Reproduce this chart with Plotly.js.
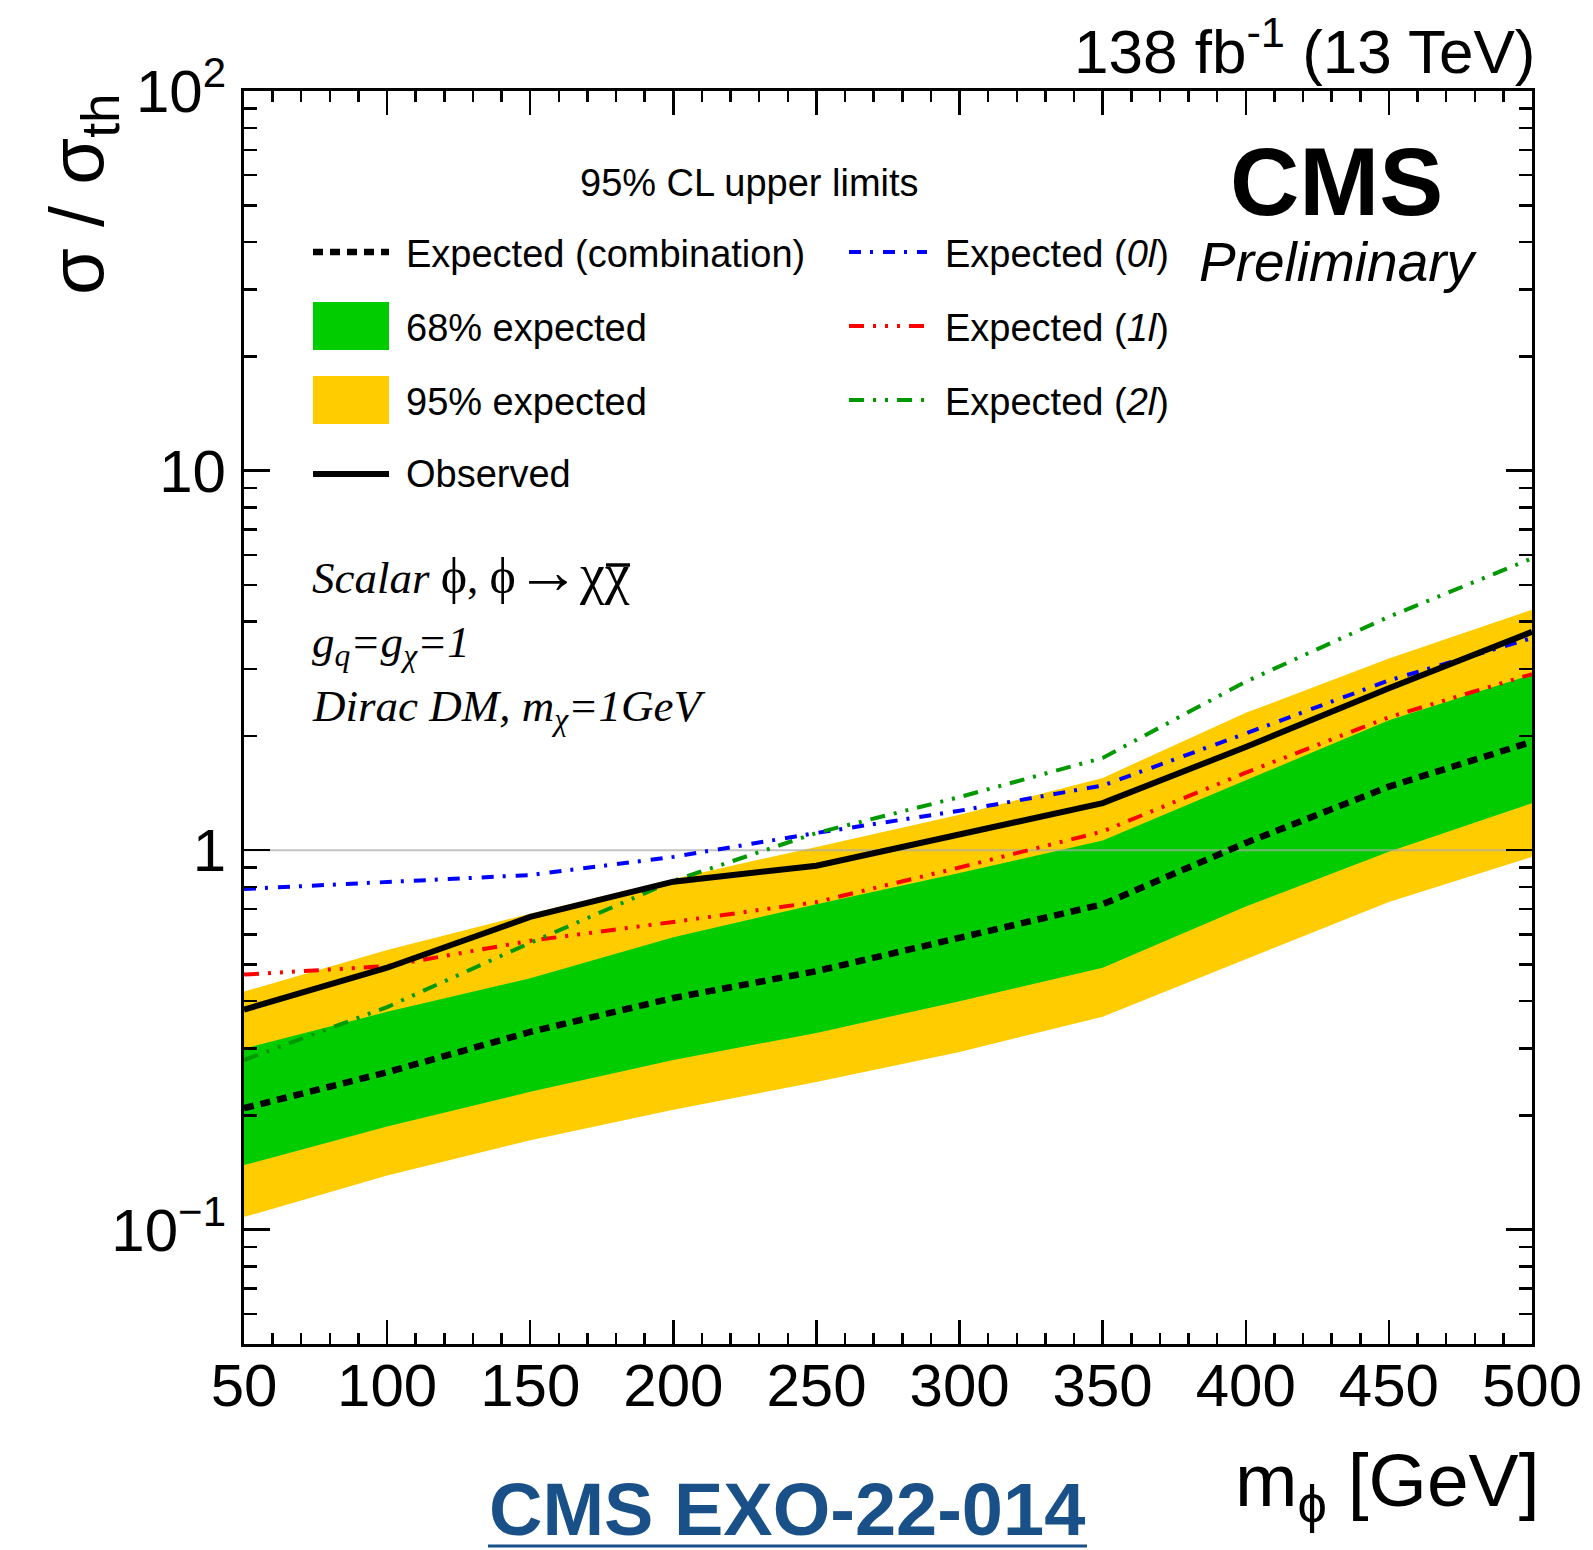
<!DOCTYPE html>
<html>
<head>
<meta charset="utf-8">
<script src="https://cdn.plot.ly/plotly-3.0.1.min.js"></script>
<style>
  html, body { margin: 0; padding: 0; background: #ffffff; }
  #chart { width: 1593px; height: 1550px; }
</style>
</head>
<body>
<div id="chart"></div>
<script>
// ---------------- data ----------------
const mass     = [50, 100, 150, 200, 250, 300, 350, 400, 450, 500];
const observed = [0.38, 0.49, 0.667, 0.826, 0.91, 1.10, 1.33, 1.87, 2.67, 3.76];
const expComb  = [0.209, 0.26, 0.332, 0.408, 0.48, 0.59, 0.72, 1.045, 1.47, 1.93];
const exp68Up  = [0.30, 0.375, 0.46, 0.59, 0.72, 0.87, 1.06, 1.53, 2.2, 2.9];
const exp68Dn  = [0.148, 0.187, 0.231, 0.28, 0.33, 0.40, 0.49, 0.71, 0.99, 1.33];
const exp95Up  = [0.424, 0.546, 0.68, 0.84, 1.02, 1.24, 1.55, 2.3, 3.2, 4.3];
const exp95Dn  = [0.108, 0.139, 0.172, 0.207, 0.245, 0.294, 0.364, 0.516, 0.73, 0.96];
const exp0l    = [0.79, 0.826, 0.86, 0.96, 1.11, 1.27, 1.48, 2.03, 2.8, 3.62];
const exp1l    = [0.47, 0.495, 0.577, 0.647, 0.73, 0.90, 1.12, 1.60, 2.24, 2.91];
const exp2l    = [0.28, 0.386, 0.57, 0.83, 1.11, 1.38, 1.75, 2.78, 4.12, 5.87];
const unityX   = [50, 500];
const unityY   = [1, 1];

const xTickVals = [50, 100, 150, 200, 250, 300, 350, 400, 450, 500];
const yTickVals = [0.1, 1, 10, 100];
const yTickText = ["10<sup>\u22121</sup>", "1", "10", "10<sup>2</sup>"];

// ---------------- styles ----------------
const SANS = "Liberation Sans, Arial, Helvetica, sans-serif";
const SERIF = "Liberation Serif, Times New Roman, serif";
const C_GREEN_BAND = "#00cc00";
const C_YELLOW_BAND = "#ffcc00";
const C_BLUE = "#0000ff";
const C_RED = "#ff0000";
const C_GREEN_LINE = "#009900";
const DASH_COMB = "10px,7px";
const DASH_0L = "12px,9px,3px,10px";
const DASH_1L = "15px,9px,3px,9px,3px,9px,3px,9px";
const DASH_2L = "15px,9px,3px,9px,3px,9px";

// minor y tick positions
const yMinor = [];
[0.01, 0.1, 1, 10].forEach(d => { for (let k = 2; k <= 9; k++) yMinor.push(k * d); });

// pixel -> paper helpers (plot area: left 244, right 1532, top 91, bottom 1344)
const L = 244, R = 61, T = 91, B = 206, W = 1593, H = 1550;
const PW = W - L - R, PH = H - T - B;
const px = v => (v - L) / PW;
const py = v => (H - B - v) / PH;

// ---------------- traces ----------------
const traces = [
  { x: mass.concat(mass.slice().reverse()), y: exp95Up.concat(exp95Dn.slice().reverse()),
    type: "scatter", mode: "lines", fill: "toself", fillcolor: C_YELLOW_BAND,
    line: { width: 0, color: C_YELLOW_BAND }, hoverinfo: "skip", showlegend: false },
  { x: mass.concat(mass.slice().reverse()), y: exp68Up.concat(exp68Dn.slice().reverse()),
    type: "scatter", mode: "lines", fill: "toself", fillcolor: C_GREEN_BAND,
    line: { width: 0, color: C_GREEN_BAND }, hoverinfo: "skip", showlegend: false },
  { x: unityX, y: unityY, type: "scatter", mode: "lines",
    line: { color: "rgba(170,170,170,0.7)", width: 2 }, showlegend: false },
  { x: mass, y: exp0l, type: "scatter", mode: "lines",
    line: { color: C_BLUE, width: 4, dash: DASH_0L }, showlegend: false },
  { x: mass, y: exp1l, type: "scatter", mode: "lines",
    line: { color: C_RED, width: 4, dash: DASH_1L }, showlegend: false },
  { x: mass, y: exp2l, type: "scatter", mode: "lines",
    line: { color: C_GREEN_LINE, width: 4, dash: DASH_2L }, showlegend: false },
  { x: mass, y: expComb, type: "scatter", mode: "lines",
    line: { color: "#000000", width: 6.5, dash: DASH_COMB }, showlegend: false },
  { x: mass, y: observed, type: "scatter", mode: "lines",
    line: { color: "#000000", width: 6 }, showlegend: false }
];

// ---------------- legend (manual) ----------------
const shapes = [];
const annotations = [];
function legLine(x0, x1, y, color, width, dash) {
  shapes.push({ type: "line", xref: "paper", yref: "paper", x0: px(x0), x1: px(x1), y0: py(y), y1: py(y),
    line: { color: color, width: width, dash: dash || "solid" } });
}
function legBox(x0, x1, y0, y1, color) {
  shapes.push({ type: "rect", xref: "paper", yref: "paper", x0: px(x0), x1: px(x1), y0: py(y1), y1: py(y0),
    fillcolor: color, line: { width: 0 } });
}
function text(t, x, y, size, opts) {
  annotations.push(Object.assign({
    text: t, xref: "paper", yref: "paper", x: px(x), y: py(y), showarrow: false,
    xanchor: "left", yanchor: "middle", font: { family: SANS, size: size, color: "#000000" }
  }, opts || {}));
}

legLine(313, 389, 252, "#000000", 6.5, DASH_COMB);
legBox(313, 389, 302, 350, C_GREEN_BAND);
legBox(313, 389, 376, 424, C_YELLOW_BAND);
legLine(313, 389, 474, "#000000", 6);
legLine(849, 927, 252, C_BLUE, 4, DASH_0L);
legLine(849, 927, 326, C_RED, 4, DASH_1L);
legLine(849, 927, 400, C_GREEN_LINE, 4, DASH_2L);

text("95% CL upper limits", 749, 183, 38, { xanchor: "center" });
text("Expected (combination)", 404, 254, 38);
text("68% expected", 404, 328, 38);
text("95% expected", 404, 402, 38);
text("Observed", 404, 474, 38);
text("Expected (<i>0l</i>)", 943, 254, 38);
text("Expected (<i>1l</i>)", 943, 328, 38);
text("Expected (<i>2l</i>)", 943, 402, 38);

// CMS labels
text("<b>CMS</b>", 1336, 182, 96, { xanchor: "center" });
text("<i>Preliminary</i>", 1338, 262, 55, { xanchor: "center" });
text("138 fb<sup>-1</sup> (13 TeV)", 1537, 47, 62, { xanchor: "right" });

// model text
const serif45 = { family: SERIF, size: 45, color: "#000000" };
text("<i>Scalar</i> <span style=\"font-size:50px\">\u03d5</span>, <span style=\"font-size:50px\">\u03d5</span>" +
     "<span style=\"font-size:64px\">\u2192</span><span style=\"font-size:56px\">\u03c7\u03c7</span>",
     310, 571, 45, { font: serif45 });
// bar over the anti-particle symbol
shapes.push({ type: "line", xref: "paper", yref: "paper", x0: px(606), x1: px(630), y0: py(565), y1: py(565),
  line: { color: "#000000", width: 3.5 } });
text("<i>g<sub>q</sub>=g<sub>\u03c7</sub>=1</i>", 310, 645, 45, { font: serif45 });
text("<i>Dirac DM, m<sub>\u03c7</sub>=1GeV</i>", 310, 709, 45, { font: serif45 });

// axis titles
text("m<sub>\u03d5</sub> [GeV]", 1541, 1486, 75, { xanchor: "right" });
text("\u03c3 / \u03c3<sub>th</sub>", 82, 91, 76, { xanchor: "center", yanchor: "top", textangle: -90 });

// bottom reference
text("<b>CMS EXO-22-014</b>", 787, 1509, 74, { xanchor: "center", font: { family: SANS, size: 74, color: "#1a5088" } });
shapes.push({ type: "line", xref: "paper", yref: "paper", x0: px(488), x1: px(1087), y0: py(1546), y1: py(1546),
  line: { color: "#1a5088", width: 3 } });

// ---------------- layout ----------------
const layout = {
  width: W, height: H,
  margin: { l: L, r: R, t: T, b: B, pad: 0 },
  paper_bgcolor: "#ffffff", plot_bgcolor: "#ffffff",
  font: { family: SANS, color: "#000000" },
  showlegend: false,
  xaxis: {
    range: [50, 500], tickmode: "array", tickvals: xTickVals,
    ticks: "inside", ticklen: 24, tickwidth: 2.5, tickcolor: "#000000",
    showline: true, linecolor: "#000000", linewidth: 3, mirror: "ticks",
    showgrid: false, zeroline: false,
    tickfont: { family: SANS, size: 60, color: "#000000" },
    ticklabelstandoff: -13,
    minor: { ticks: "inside", ticklen: 11, tickwidth: 2.5, tickcolor: "#000000", dtick: 10, tick0: 50, showgrid: false }
  },
  yaxis: {
    type: "log", range: [Math.log10(0.05), 2], tickmode: "array", tickvals: yTickVals, ticktext: yTickText,
    ticks: "inside", ticklen: 26, tickwidth: 2.5, tickcolor: "#000000",
    showline: true, linecolor: "#000000", linewidth: 3, mirror: "ticks",
    showgrid: false, zeroline: false,
    tickfont: { family: SANS, size: 60, color: "#000000" },
    ticklabelstandoff: 3,
    minor: { ticks: "inside", ticklen: 13, tickwidth: 2.5, tickcolor: "#000000", tickmode: "array", tickvals: yMinor, showgrid: false }
  },
  shapes: shapes,
  annotations: annotations
};

Plotly.newPlot("chart", traces, layout, { staticPlot: true, displayModeBar: false });
</script>
</body>
</html>
